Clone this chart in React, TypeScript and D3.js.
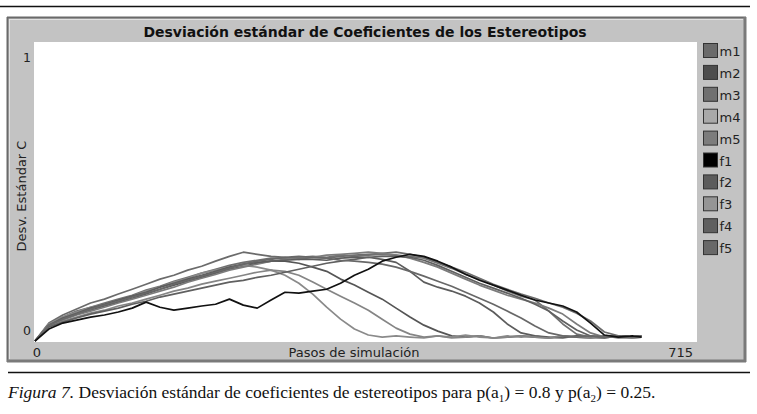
import React from "react";
import * as d3 from "d3";

const steps: number[] = [0,15,30,45,60,75,90,105,120,135,150,165,180,195,210,225,240,255,270,285,300,315,330,345,360,375,390,405,420,435,450,465,480,495,510,525,540,555,570,585,600,615,630,645,655];

const seriesNames: string[] = ["m1","m2","m3","m4","m5","f1","f2","f3","f4","f5"];
const seriesColors: string[] = ["#6b6b6b","#4d4d4d","#707070","#a9a9a9","#7c7c7c","#000000","#5c5c5c","#959595","#606060","#686868"];
const lineColors: string[] = ["#6b6b6b","#555555","#707070","#8a8a8a","#7c7c7c","#111111","#5c5c5c","#858585","#606060","#686868"];

const m1: number[] = [0,0.06,0.087,0.107,0.127,0.14,0.157,0.173,0.19,0.207,0.22,0.237,0.25,0.267,0.283,0.297,0.29,0.283,0.28,0.273,0.28,0.277,0.283,0.287,0.29,0.293,0.297,0.29,0.28,0.263,0.247,0.23,0.21,0.19,0.173,0.157,0.143,0.127,0.113,0.093,0.067,0.03,0.017,0.013,0.017];
const m2: number[] = [0,0.05,0.073,0.09,0.103,0.117,0.13,0.143,0.157,0.173,0.187,0.2,0.213,0.227,0.24,0.25,0.26,0.267,0.267,0.26,0.247,0.233,0.207,0.187,0.163,0.14,0.11,0.08,0.053,0.033,0.017,0.013,0.017,0.01,0.013,0.017,0.013,0.01,0.017,0.013,0.01,0.017,0.013,0.01,0.013];
const m3: number[] = [0,0.057,0.08,0.1,0.113,0.127,0.14,0.153,0.17,0.183,0.2,0.213,0.227,0.24,0.253,0.263,0.27,0.277,0.277,0.28,0.283,0.28,0.287,0.283,0.287,0.29,0.287,0.283,0.277,0.26,0.243,0.223,0.207,0.187,0.167,0.15,0.137,0.1,0.057,0.023,0.013,0.017,0.01,0.013,0.017];
const m4: number[] = [0,0.057,0.08,0.097,0.113,0.123,0.137,0.15,0.167,0.18,0.197,0.21,0.227,0.237,0.247,0.253,0.247,0.237,0.22,0.193,0.157,0.113,0.073,0.04,0.02,0.013,0.017,0.013,0.01,0.017,0.013,0.02,0.013,0.01,0.017,0.013,0.017,0.01,0.013,0.017,0.013,0.01,0.017,0.013,0.013];
const m5: number[] = [0,0.05,0.07,0.087,0.1,0.113,0.127,0.14,0.153,0.167,0.18,0.197,0.21,0.223,0.237,0.247,0.257,0.267,0.273,0.277,0.28,0.287,0.29,0.293,0.297,0.293,0.287,0.277,0.263,0.247,0.227,0.207,0.187,0.17,0.153,0.14,0.127,0.11,0.09,0.057,0.027,0.013,0.017,0.013,0.013];
const f1: number[] = [0,0.04,0.06,0.07,0.08,0.087,0.097,0.11,0.13,0.113,0.103,0.11,0.117,0.123,0.14,0.12,0.11,0.137,0.163,0.16,0.167,0.173,0.193,0.22,0.24,0.267,0.28,0.29,0.283,0.267,0.247,0.223,0.203,0.187,0.17,0.153,0.137,0.127,0.117,0.097,0.06,0.02,0.013,0.017,0.013];
const f2: number[] = [0,0.053,0.077,0.093,0.11,0.123,0.137,0.15,0.163,0.18,0.193,0.207,0.22,0.233,0.247,0.257,0.263,0.267,0.27,0.273,0.273,0.27,0.277,0.28,0.28,0.273,0.263,0.233,0.197,0.18,0.167,0.15,0.127,0.097,0.057,0.027,0.017,0.013,0.01,0.017,0.013,0.01,0.017,0.013,0.013];
const f3: number[] = [0,0.047,0.067,0.08,0.093,0.103,0.117,0.127,0.14,0.153,0.167,0.177,0.19,0.2,0.21,0.22,0.23,0.237,0.233,0.22,0.197,0.173,0.15,0.127,0.103,0.073,0.043,0.023,0.013,0.017,0.01,0.013,0.017,0.01,0.013,0.017,0.013,0.01,0.017,0.013,0.01,0.013,0.017,0.01,0.013];
const f4: number[] = [0,0.047,0.063,0.077,0.09,0.1,0.11,0.123,0.133,0.147,0.157,0.167,0.177,0.187,0.197,0.203,0.213,0.22,0.23,0.24,0.25,0.26,0.267,0.273,0.28,0.283,0.283,0.28,0.27,0.253,0.233,0.213,0.193,0.177,0.16,0.143,0.123,0.1,0.067,0.037,0.017,0.013,0.017,0.013,0.017];
const f5: number[] = [0,0.053,0.073,0.09,0.107,0.12,0.133,0.147,0.16,0.173,0.19,0.203,0.217,0.23,0.243,0.257,0.267,0.273,0.28,0.283,0.28,0.277,0.27,0.267,0.263,0.257,0.247,0.233,0.217,0.2,0.183,0.163,0.143,0.123,0.1,0.077,0.05,0.027,0.017,0.013,0.017,0.013,0.017,0.013,0.017];

const seriesValues: number[][] = [m1, m2, m3, m4, m5, f1, f2, f3, f4, f5];

const xDomain: [number, number] = [0, 715];
const yDomain: [number, number] = [0, 1];
const xTickLabels: string[] = ["0", "715"];
const yTickLabels: string[] = ["0", "1"];

const title = "Desviación estándar de Coeficientes de los Estereotipos";
const xTitle = "Pasos de simulación";
const yTitle = "Desv. Estándar C";

const W = 757;
const H = 414;
const plot = { left: 34, top: 42, right: 697, bottom: 342 };
const uiFont = "'DejaVu Sans', Verdana, sans-serif";

export default function App() {
  const x = d3.scaleLinear().domain(xDomain).range([plot.left + 1, plot.right]);
  const y = d3.scaleLinear().domain(yDomain).range([plot.bottom - 1, plot.top]);
  const line = d3
    .line<[number, number]>()
    .x((d) => x(d[0]))
    .y((d) => y(d[1]))
    .curve(d3.curveLinear);

  const order = [0, 1, 2, 3, 4, 6, 7, 8, 9, 5];

  return (
    <div style={{ position: "absolute", left: 0, top: 0 }}>
      <svg width={W} height={H} style={{ display: "block", background: "#fff" }}>
        <line x1={0} x2={750} y1={6.5} y2={6.5} stroke="#111" strokeWidth={1.3} />

        <rect x={7} y={17} width={739} height={345} fill="#c3c3c3" />
        <line x1={7} x2={746} y1={17.5} y2={17.5} stroke="#6a6a6a" strokeWidth={2} />
        <line x1={7.5} x2={7.5} y1={17} y2={362} stroke="#6a6a6a" strokeWidth={2} />
        <line x1={745} x2={745} y1={17} y2={362} stroke="#7a7a7a" strokeWidth={3} />
        <line x1={7} x2={746} y1={361} y2={361} stroke="#7a7a7a" strokeWidth={3} />
        <line x1={9} x2={743} y1={19.5} y2={19.5} stroke="#e2e2e2" strokeWidth={1} />
        <line x1={9.5} x2={9.5} y1={19} y2={359} stroke="#e2e2e2" strokeWidth={1} />

        <text
          x={365}
          y={36.5}
          textAnchor="middle"
          fontFamily={uiFont}
          fontWeight="bold"
          fontSize={14}
          fill="#111"
        >
          {title}
        </text>

        <rect
          x={plot.left}
          y={plot.top}
          width={plot.right - plot.left}
          height={plot.bottom - plot.top}
          fill="#fff"
        />

        <defs>
          <clipPath id="plotclip">
            <rect x={plot.left} y={plot.top - 2} width={plot.right - plot.left} height={plot.bottom - plot.top + 2} />
          </clipPath>
        </defs>
        <g clipPath="url(#plotclip)">
          {order.map((i) => (
            <path
              key={seriesNames[i]}
              d={line(steps.map((s, k) => [s, seriesValues[i][k]]) as [number, number][]) || ""}
              fill="none"
              stroke={lineColors[i]}
              strokeWidth={1.7}
              strokeLinejoin="round"
            />
          ))}
        </g>

        <text x={27} y={62} textAnchor="middle" fontFamily={uiFont} fontSize={12.5} fill="#222">
          {yTickLabels[1]}
        </text>
        <text x={27} y={335} textAnchor="middle" fontFamily={uiFont} fontSize={12.5} fill="#222">
          {yTickLabels[0]}
        </text>

        <text
          transform="translate(26,196) rotate(-90)"
          textAnchor="middle"
          fontFamily={uiFont}
          fontSize={13}
          fill="#222"
        >
          {yTitle}
        </text>

        <text x={37} y={357} textAnchor="middle" fontFamily={uiFont} fontSize={13} fill="#222">
          {xTickLabels[0]}
        </text>
        <text x={693} y={357} textAnchor="end" fontFamily={uiFont} fontSize={13} fill="#222">
          {xTickLabels[1]}
        </text>
        <text x={354} y={357} textAnchor="middle" fontFamily={uiFont} fontSize={13} fill="#222">
          {xTitle}
        </text>

        {seriesNames.map((n, i) => {
          const yy = 43.5 + i * 21.9;
          return (
            <g key={n}>
              <rect x={703.5} y={yy} width={14} height={14} fill={seriesColors[i]} stroke="#333" strokeWidth={1} />
              <text x={719.5} y={yy + 12.5} fontFamily={uiFont} fontSize={13} fill="#222">
                {n}
              </text>
            </g>
          );
        })}

        <line x1={8} x2={750} y1={372.5} y2={372.5} stroke="#111" strokeWidth={1.3} />

        <text x={8} y={398} fontFamily="'Liberation Serif', 'Times New Roman', serif" fontSize={17.5} fill="#111">
          <tspan fontStyle="italic">Figura 7.</tspan>
          <tspan> Desviación estándar de coeficientes de estereotipos para p(a</tspan>
          <tspan fontSize={11} dy={4}>1</tspan>
          <tspan dy={-4}>) = 0.8 y p(a</tspan>
          <tspan fontSize={11} dy={4}>2</tspan>
          <tspan dy={-4}>) = 0.25.</tspan>
        </text>
      </svg>
    </div>
  );
}
